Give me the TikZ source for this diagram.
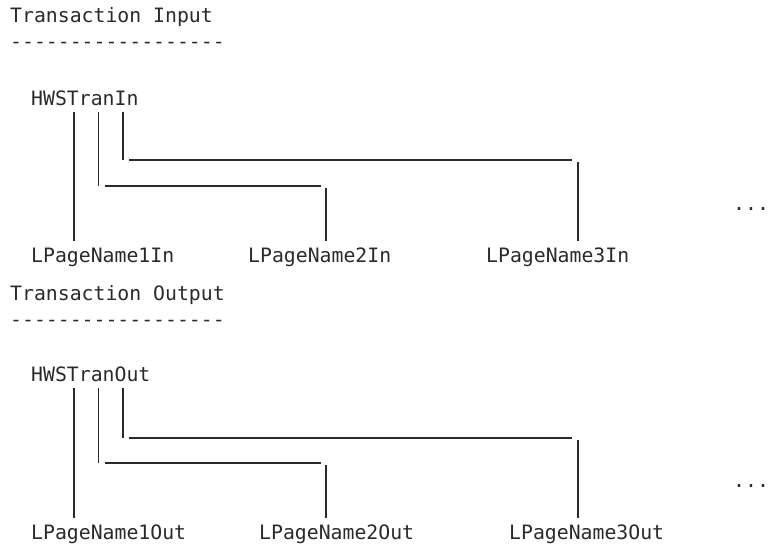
\documentclass[tikz,border=0pt]{standalone}
\usepackage{fontspec}
\setmonofont{DejaVu Sans Mono}
\usetikzlibrary{
	calc,
	positioning,
}
\definecolor{MyInk}{HTML}{2A2A2A}
\tikzset{every picture/.style={/utils/exec={\ttfamily}}}

\begin{document}
\begin{tikzpicture} [
            x=1pt,y=-1pt,
            every node/.style={anchor=base west,inner xsep=0pt,inner ysep=3pt,text height=15pt,text depth=4pt,text=MyInk,
                font=\ttfamily\fontsize{19.8}{24}\selectfont},
            wire/.style={draw=MyInk,line width=1.6pt},
            drop/.style={wire,shorten >=3pt}
        ]
        \clip (0,0) rectangle (769,544);

        % columns of the bars, rows of the runs
        \coordinate (colA) at (74,0);
        \coordinate (colB) at (98.5,0);
        \coordinate (colC) at (123,0);
        \coordinate (colE) at (326,0);
        \coordinate (colF) at (578,0);
        \coordinate (rowCIn) at (0,160);
        \coordinate (rowBIn) at (0,186);
        \coordinate (rowCOut) at (0,438);
        \coordinate (rowBOut) at (0,463);

        % Transaction Input
        \node at (10,22) (titleIn) {Transaction Input};
        \node at (10,48) (ruleIn) {------------------};
        \node at (31,105) (hwsIn) {HWSTranIn};
        \node at (31,262) (pgOneIn) {LPageName1In};
        \node at (248,262) (pgTwoIn) {LPageName2In};
        \node at (486,262) (pgThreeIn) {LPageName3In};
        \node at (733,210) (moreIn) {...};

        \draw[drop] (hwsIn.south -| colA) -- (pgOneIn.north -| colA);
        \draw[wire] (hwsIn.south -| colB) -- (colB |- rowBIn);
        \draw[wire,shorten <=6.5pt,shorten >=5pt] (colB |- rowBIn) -- (colE |- rowBIn);
        \draw[drop] ([yshift=-2pt]colE |- rowBIn) -- (pgTwoIn.north -| colE);
        \draw[wire] (hwsIn.south -| colC) -- (colC |- rowCIn);
        \draw[wire,shorten <=6pt,shorten >=6pt] (colC |- rowCIn) -- (colF |- rowCIn);
        \draw[drop] ([yshift=-2pt]colF |- rowCIn) -- (pgThreeIn.north -| colF);

        % Transaction Output
        \node at (10,300) (titleOut) {Transaction Output};
        \node at (10,326) (ruleOut) {------------------};
        \node at (31,381) (hwsOut) {HWSTranOut};
        \node at (31,539) (pgOneOut) {LPageName1Out};
        \node at (259,539) (pgTwoOut) {LPageName2Out};
        \node at (509,539) (pgThreeOut) {LPageName3Out};
        \node at (733,487) (moreOut) {...};

        \draw[drop] (hwsOut.south -| colA) -- (pgOneOut.north -| colA);
        \draw[wire] (hwsOut.south -| colB) -- (colB |- rowBOut);
        \draw[wire,shorten <=6.5pt,shorten >=5pt] (colB |- rowBOut) -- (colE |- rowBOut);
        \draw[drop] ([yshift=-2pt]colE |- rowBOut) -- (pgTwoOut.north -| colE);
        \draw[wire] (hwsOut.south -| colC) -- (colC |- rowCOut);
        \draw[wire,shorten <=6pt,shorten >=6pt] (colC |- rowCOut) -- (colF |- rowCOut);
        \draw[drop] ([yshift=-2pt]colF |- rowCOut) -- (pgThreeOut.north -| colF);
    \end{tikzpicture}
\end{document}
